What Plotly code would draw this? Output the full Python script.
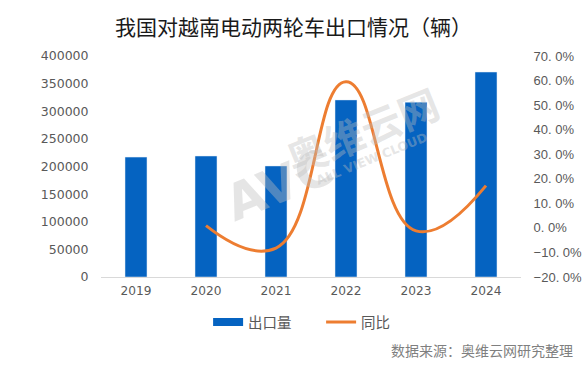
import plotly.graph_objects as go

years = ["2019", "2020", "2021", "2022", "2023", "2024"]
exports = [217000, 219000, 201000, 320500, 316500, 371000]
yoy = [None, 0.9, -8.2, 59.5, -1.2, 17.2]
left_ticks = [0, 50000, 100000, 150000, 200000, 250000, 300000, 350000, 400000]
left_labels = [str(v) for v in left_ticks]
right_ticks = [-20, -10, 0, 10, 20, 30, 40, 50, 60, 70]
right_labels = ["−20. 0%", "−10. 0%", "0. 0%", "10. 0%", "20. 0%", "30. 0%",
                "40. 0%", "50. 0%", "60. 0%", "70. 0%"]

FONT = "Noto Sans CJK SC"
NUMFONT = "DejaVu Sans"
TICK = "#595959"
BLUE = "#0563C1"
ORANGE = "#ED7D31"

fig = go.Figure()
fig.add_trace(go.Bar(x=years, y=exports, name="出口量", marker_color=BLUE,
                     yaxis="y", showlegend=False))
# legend proxy for the bars (wide rectangle like the reference)
fig.add_trace(go.Scatter(x=[None], y=[None], name="出口量", mode="lines",
                         line=dict(color=BLUE, width=8), yaxis="y"))
fig.add_trace(go.Scatter(x=years, y=yoy, name="同比", mode="lines",
                         line=dict(color=ORANGE, width=3, shape="spline", smoothing=1.3),
                         yaxis="y2"))

fig.update_layout(
    width=583, height=365,
    margin=dict(l=101, r=62, t=56, b=88, autoexpand=False),
    paper_bgcolor="white", plot_bgcolor="white",
    font=dict(family=FONT, color=TICK, size=12),
    bargap=0.686,
    title=dict(text="我国对越南电动两轮车出口情况（辆）", x=0.5034, xanchor="center",
               y=0.925, yanchor="middle",
               font=dict(family=FONT, size=21, color="#1a1a1a")),
    xaxis=dict(showgrid=False, showline=True, linecolor="#d9d9d9", linewidth=1,
               automargin=False,
               ticks="outside", ticklen=2, tickcolor="rgba(0,0,0,0)",
               tickfont=dict(family=NUMFONT, size=12.2, color=TICK)),
    yaxis=dict(range=[0, 400000], tickvals=left_ticks, ticktext=left_labels,
               showgrid=False, zeroline=False, showline=False, automargin=False,
               ticks="outside", ticklen=9, tickcolor="rgba(0,0,0,0)",
               tickfont=dict(family=NUMFONT, size=12.5, color=TICK)),
    yaxis2=dict(range=[-20, 70], tickvals=right_ticks, ticktext=right_labels,
                overlaying="y", side="right", showgrid=False, zeroline=False,
                showline=False, automargin=False,
                ticks="outside", ticklen=9, tickcolor="rgba(0,0,0,0)",
                tickfont=dict(family="Liberation Sans", size=13, color=TICK)),
    legend=dict(orientation="h", x=0.255, xanchor="left", y=-0.204, yanchor="middle",
                bgcolor="rgba(0,0,0,0)", font=dict(size=14.5, color=TICK),
                itemwidth=30, entrywidth=68, traceorder="normal"),
)

fig.add_annotation(text="数据来源：奥维云网研究整理", xref="paper", yref="paper",
                   x=1.1286, y=-0.33, xanchor="right", yanchor="middle", showarrow=False,
                   font=dict(family=FONT, size=14, color="#7f7f7f"))

# watermark
WM = "rgba(190,190,190,0.4)"
fig.add_annotation(text="<b>AVC</b>", xref="paper", yref="paper", x=0.271, y=0.416,
                   showarrow=False, textangle=-22,
                   font=dict(family="DejaVu Sans", size=50, color=WM))
fig.add_annotation(text="<b>奥维云网</b>", xref="paper", yref="paper", x=0.621, y=0.665,
                   showarrow=False, textangle=-22,
                   font=dict(family=FONT, size=40, color=WM))
fig.add_annotation(text="<b>ALL VIEW CLOUD</b>", xref="paper", yref="paper", x=0.645, y=0.538,
                   showarrow=False, textangle=-22,
                   font=dict(family="DejaVu Sans", size=12.5, color=WM))

fig.write_html("out.html", config={"displayModeBar": False},
               post_script="document.body.style.margin='0';")
